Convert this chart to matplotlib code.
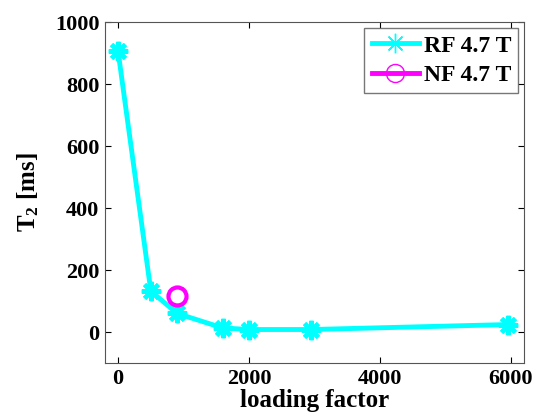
import matplotlib
matplotlib.use("Agg")
import matplotlib.pyplot as plt

plt.rcParams['font.family'] = 'Liberation Serif'
plt.rcParams['font.weight'] = 'bold'
plt.rcParams['mathtext.fontset'] = 'custom'
plt.rcParams['mathtext.rm'] = 'Liberation Serif:bold'
plt.rcParams['mathtext.bf'] = 'Liberation Serif:bold'
plt.rcParams['mathtext.it'] = 'Liberation Serif:bold'

# RF 4.7 T series
rf_load = [0, 500, 900, 1600, 2000, 2950, 5950]
rf_t2 = [905, 132, 60, 13, 8, 8, 24]

# NF 4.7 T series
nf_load = [900]
nf_t2 = [117]

xticks = [0, 2000, 4000, 6000]
yticks = [0, 200, 400, 600, 800, 1000]

fig = plt.figure(figsize=(5.37, 4.18), dpi=100)
ax = fig.add_axes([105 / 537, 55 / 418, 419 / 537, 341 / 418])

asterisk = (8, 2, 0)
ax.plot(rf_load, rf_t2, "-", color="#00ffff", lw=3.5, marker=asterisk, ms=14,
        mew=3, label="RF 4.7 T")
ax.plot(nf_load, nf_t2, "-", color="#ff00ff", lw=3.5, marker="o", ms=13,
        mfc="none", mew=3, label="NF 4.7 T")

ax.set_xlim(-200, 6200)
ax.set_ylim(-100, 1000)
ax.set_xticks(xticks)
ax.set_yticks(yticks)
ax.tick_params(direction="in", top=True, right=True, labelsize=16, length=4,
               pad=4)
for lab in ax.get_xticklabels() + ax.get_yticklabels():
    lab.set_fontweight("bold")
for s in ax.spines.values():
    s.set_color("#555555")

ax.set_xlabel("loading factor", fontsize=18, fontweight="bold", labelpad=0)
ax.set_ylabel(r"T$_2$ [ms]", fontsize=18, fontweight="bold", labelpad=10)

leg = ax.legend(loc="upper right", fontsize=17, frameon=True, fancybox=False,
                edgecolor="#555555", handlelength=2.0, borderpad=0.3,
                labelspacing=0.35, handletextpad=0.2, borderaxespad=0.25)
leg.get_frame().set_linewidth(1)
for h in leg.legend_handles:
    h.set_markeredgewidth(1)

fig.savefig("out.png", dpi=100)
